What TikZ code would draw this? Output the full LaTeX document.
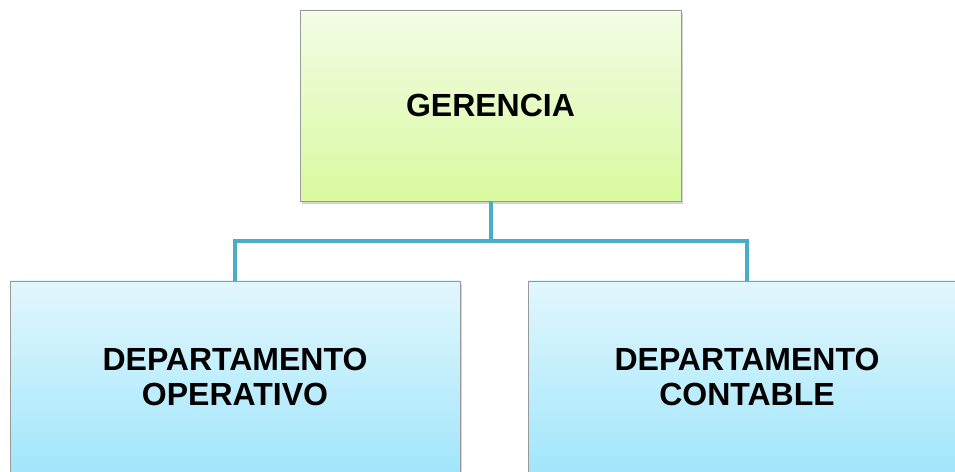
\documentclass[tikz,border=0pt]{standalone}
\usepackage{fontspec}
\setmainfont{Liberation Sans}
\usetikzlibrary{shadows}
\definecolor{greentop}{HTML}{F3FCE6}
\definecolor{greenbot}{HTML}{D9FA9F}
\definecolor{bluetop}{HTML}{E2F7FD}
\definecolor{bluebot}{HTML}{A2E6FB}
\definecolor{linkblue}{HTML}{4BACC6}
\tikzset{
  orgbox/.style={draw=black!40,line width=0.8bp,align=center,
    font=\fontsize{32bp}{35bp}\selectfont\bfseries,
    minimum height=191bp,
    drop shadow={opacity=0.35,shadow xshift=2bp,shadow yshift=-3.5bp}},
  boss/.style={orgbox,top color=greentop,bottom color=greenbot},
  dept/.style={orgbox,top color=bluetop,bottom color=bluebot},
  link/.style={draw=linkblue,line width=4bp},
}
\begin{document}
\begin{tikzpicture}[line join=miter]
\useasboundingbox (0bp,0bp) rectangle (955bp,472bp);
%%
\node (gerencia) at (490.5bp,366.5bp) [boss,minimum width=381bp] {GERENCIA};
  \node (operativo) at (235bp,95.5bp) [dept,minimum width=450bp] {DEPARTAMENTO\\OPERATIVO};
  \node (contable) at (747bp,95.5bp) [dept,minimum width=438bp] {DEPARTAMENTO\\CONTABLE};
  \coordinate (branch) at (490.5bp,231bp);
  \draw [link] (gerencia.south) -- (branch) -| (operativo.north);
  \draw [link] (branch) -| (contable.north);
%
\end{tikzpicture}
\end{document}
